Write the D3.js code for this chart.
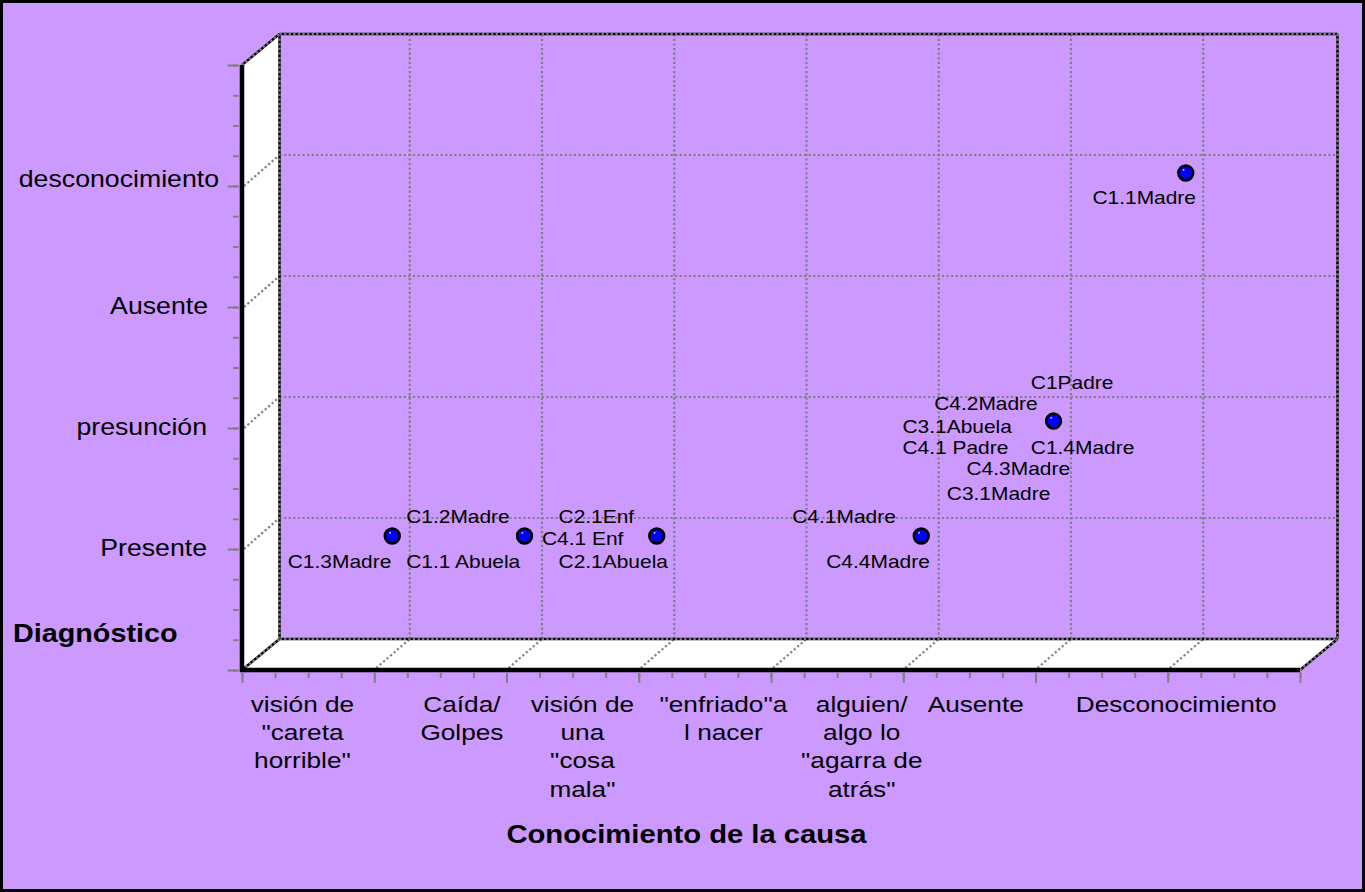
<!DOCTYPE html>
<html>
<head>
<meta charset="utf-8">
<script src="https://cdn.jsdelivr.net/npm/d3@7"></script>
<style>
  html, body { margin: 0; padding: 0; background: #ffffff; }
  svg { display: block; }
</style>
</head>
<body>
<script>
// ---- data -------------------------------------------------------------
// Causes on the horizontal axis (wrapped as they are printed)
const causeLabels = [
  ["visión de", "\"careta", "horrible\""],
  ["Caída/", "Golpes"],
  ["visión de", "una", "\"cosa", "mala\""],
  ["\"enfriado\"a", "l nacer"],
  ["alguien/", "algo lo", "\"agarra de", "atrás\""],
  ["Ausente"],
  ["Desconocimiento"]
];
// Diagnosis levels on the vertical axis
const diagnosisLabels = ["Presente", "presunción", "Ausente", "desconocimiento"];
const diagnosisValues = [1, 2, 3, 4];

// One marker per position; every informant sharing it is listed
const pointCause = [1, 2, 3, 5, 6, 7];
const pointDiagnosis = [1, 1, 1, 1, 1.95, 4];
const pointCases = [
  ["C1.3Madre"],
  ["C1.2Madre", "C1.1 Abuela"],
  ["C2.1Enf", "C4.1 Enf", "C2.1Abuela"],
  ["C4.1Madre", "C4.4Madre"],
  ["C1Padre", "C4.2Madre", "C3.1Abuela", "C4.1 Padre", "C1.4Madre", "C4.3Madre", "C3.1Madre"],
  ["C1.1Madre"]
];

const xTitle = "Conocimiento de la causa";
const yTitle = "Diagnóstico";

// ---- layout -----------------------------------------------------------
const W = 1365, H = 892;
const BG = "#CC99FF";
const GRID = "#808080";
const FONT = "'Liberation Sans', Arial, Helvetica, sans-serif";
const SX = 1.15;                 // horizontal text stretch
const DX = 37.5, DY = -31;       // depth offset of the back wall
const PDX = 18, PDY = -13;       // markers sit mid-depth

// where each cause caption is centred, in axis units
const causeLabelAt = [0.457, 1.663, 2.574, 3.640, 4.686, 5.548, 7.064];
// right edge and baseline shift of each diagnosis caption
const diagLabelEnd = [207, 207, 208, 219];
const diagLabelDrop = [6.5, 6.5, 6.5, 1];

// label placement for each informant: left edge / baseline relative to marker
const caseLabelOffset = [
  [[-104.5, 32]],
  [[-118.3, -12.7], [-118.3, 32.3]],
  [[-98.2, -12.7], [-114.8, 9], [-98.2, 32.3]],
  [[-129, -13], [-95, 32]],
  [[-22.7, -32.4], [-119.3, -10.7], [-151, 12], [-151, 32.6], [-22.7, 32.6], [-87, 54.3], [-106.7, 78.6]],
  [[-93.3, 31]]
];

const x = d3.scaleLinear().domain([0, 8]).range([242, 1300]);
const y = d3.scaleLinear().domain([0, 5]).range([670, 65]);
const [x0, x1] = x.domain();
const [y0, y1] = y.domain();

const svg = d3.select("body").append("svg")
  .attr("width", W).attr("height", H);

// chart area background with frame
svg.append("rect")
  .attr("x", 1.5).attr("y", 1.5)
  .attr("width", W - 3).attr("height", H - 3)
  .attr("fill", BG).attr("stroke", "#000").attr("stroke-width", 3);

const g = svg.append("g");

// side wall and floor (white)
const poly = pts => "M" + pts.map(p => p.join(",")).join("L") + "Z";
g.append("path")
  .attr("d", poly([[x(x0), y(y1)], [x(x0) + DX, y(y1) + DY], [x(x0) + DX, y(y0) + DY], [x(x0), y(y0)]]))
  .attr("fill", "#fff");
g.append("path")
  .attr("d", poly([[x(x0), y(y0)], [x(x0) + DX, y(y0) + DY], [x(x1) + DX, y(y0) + DY], [x(x1), y(y0)]]))
  .attr("fill", "#fff");

const dotted = (sel, x1_, y1_, x2_, y2_) => sel.append("line")
  .attr("x1", x1_).attr("y1", y1_).attr("x2", x2_).attr("y2", y2_)
  .attr("stroke", GRID).attr("stroke-width", 2.2)
  .attr("stroke-dasharray", "2.2,2.4");

// gridlines: back wall verticals + floor diagonals
const xGrid = d3.range(x0 + 1, x1);
xGrid.forEach(v => {
  dotted(g, x(v) + DX - 2, y(y0) + DY, x(v) + DX - 2, y(y1) + DY);
  dotted(g, x(v) + 2, y(y0) - 2, x(v) + DX - 2, y(y0) + DY);
});
// gridlines: back wall horizontals + side wall diagonals
const yGrid = d3.range(y0 + 1, y1);
yGrid.forEach(v => {
  dotted(g, x(x0) + DX, y(v) + DY, x(x1) + DX, y(v) + DY);
  dotted(g, x(x0) + 2, y(v), x(x0) + DX, y(v) + DY);
});

// back edges: black with grey dots along them
const edge = (a, b, w) => {
  g.append("line").attr("x1", a[0]).attr("y1", a[1]).attr("x2", b[0]).attr("y2", b[1])
    .attr("stroke", "#000").attr("stroke-width", w || 2.5);
  dotted(g, a[0], a[1], b[0], b[1]);
};
const bl = [x(x0) + DX, y(y0) + DY], br = [x(x1) + DX, y(y0) + DY];
const tl = [x(x0) + DX, y(y1) + DY], tr = [x(x1) + DX, y(y1) + DY];
edge(tl, tr);
edge(bl, br);
edge(tl, bl);
edge(tr, br);
edge([x(x0), y(y1)], tl);
edge([x(x0), y(y0)], bl);
edge([x(x1), y(y0)], br);

// front edges (heavy)
g.append("line").attr("x1", x(x0)).attr("y1", y(y1)).attr("x2", x(x0)).attr("y2", y(y0) + 2)
  .attr("stroke", "#000").attr("stroke-width", 4.5);
g.append("line").attr("x1", x(x0) - 2).attr("y1", y(y0)).attr("x2", x(x1)).attr("y2", y(y0))
  .attr("stroke", "#000").attr("stroke-width", 4.5);

// axes: tick marks only (captions are drawn separately)
const yAxis = d3.axisLeft(y).tickValues(d3.range(y0, y1 + 0.001, 1)).tickSize(11).tickFormat("");
const yMinor = d3.axisLeft(y).tickValues(d3.range(y0, y1 + 0.001, 0.25)).tickSize(5.5).tickFormat("");
const xAxis = d3.axisBottom(x).tickValues(d3.range(x0, x1 + 0.001, 1)).tickSize(10.5).tickFormat("");
const xMinor = d3.axisBottom(x).tickValues(d3.range(x0, x1 + 0.001, 0.25)).tickSize(5.5).tickFormat("");

const styleAxis = sel => {
  sel.select(".domain").remove();
  sel.selectAll(".tick line").attr("stroke", GRID).attr("stroke-width", 2);
};
g.append("g").attr("transform", `translate(${x(x0) - 3.5},0)`).call(yMinor).call(styleAxis);
g.append("g").attr("transform", `translate(${x(x0) - 3.5},0)`).call(yAxis).call(styleAxis);
g.append("g").attr("transform", `translate(0,${y(y0) + 2.5})`).call(xMinor).call(styleAxis);
g.append("g").attr("transform", `translate(0,${y(y0) + 2.5})`).call(xAxis).call(styleAxis);

// stretched text helper
const text = (parent, str, tx, ty, size, anchor, weight) => parent.append("text")
  .attr("transform", `translate(${tx},${ty}) scale(${SX},1)`)
  .attr("text-anchor", anchor || "start")
  .attr("font-family", FONT)
  .attr("font-size", size)
  .attr("font-weight", weight || "normal")
  .attr("fill", "#000")
  .text(str);

// diagnosis captions
diagnosisValues.forEach((v, i) => {
  text(svg, diagnosisLabels[i], diagLabelEnd[i], y(v) + diagLabelDrop[i], 23.2, "end");
});

// cause captions
causeLabels.forEach((lines, i) => {
  lines.forEach((ln, j) => {
    text(svg, ln, x(causeLabelAt[i]), 711.7 + j * 28.35, 22.8, "middle");
  });
});

// axis titles
text(svg, yTitle, 13, 641.7, 25, "start", "bold");
text(svg, xTitle, 686.5, 843.3, 25.4, "middle", "bold");

// markers and informant labels
const pts = pointCause.map((c, i) => ({
  cx: x(c) + PDX, cy: y(pointDiagnosis[i]) + PDY, names: pointCases[i], off: caseLabelOffset[i]
}));

const labels = svg.append("g");
pts.forEach(p => {
  p.names.forEach((n, j) => {
    text(labels, n, p.cx + p.off[j][0], p.cy + p.off[j][1], 18.2, "start");
  });
});

const marks = svg.append("g");
marks.selectAll("circle").data(pts).join("circle")
  .attr("cx", d => d.cx).attr("cy", d => d.cy).attr("r", 7.4)
  .attr("fill", "#0000FF").attr("stroke", "#000").attr("stroke-width", 2.6);
// small specular glint on each marker
marks.selectAll("rect").data(pts).join("rect")
  .attr("x", d => d.cx - 3).attr("y", d => d.cy - 4).attr("width", 1.6).attr("height", 1.6)
  .attr("fill", "#ffffff").attr("opacity", 0.8);
</script>
</body>
</html>
